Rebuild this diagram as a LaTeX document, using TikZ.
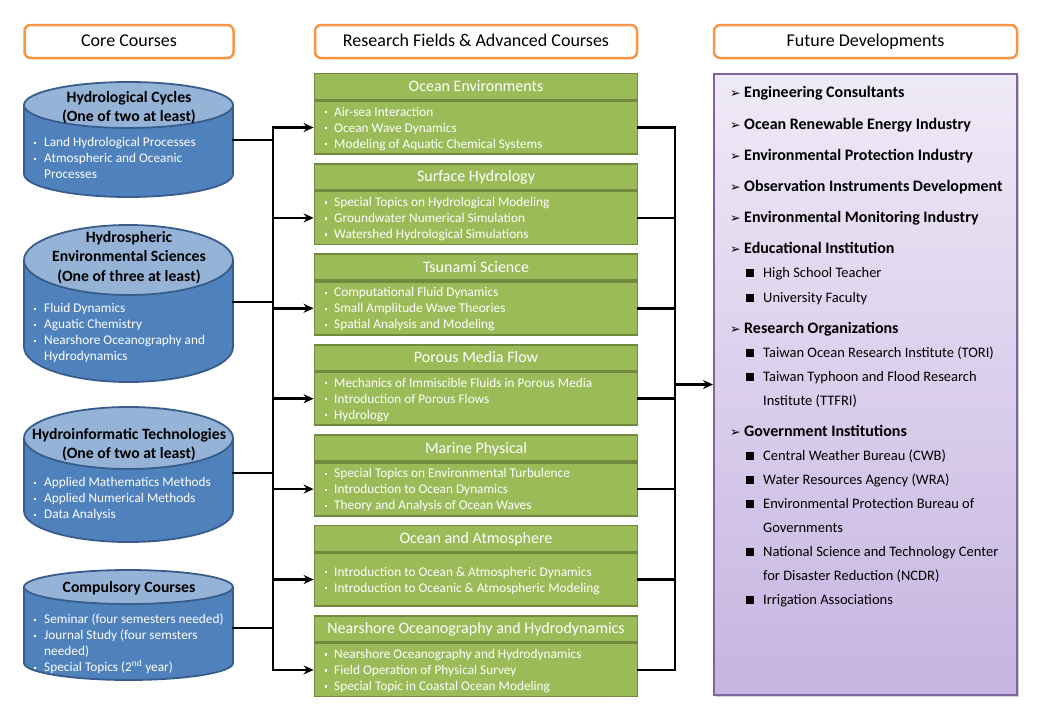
\documentclass[tikz,border=0pt]{standalone}
\usepackage{fontspec}
\setmainfont{Carlito}
\newfontfamily\symf{DejaVu Sans}
\usetikzlibrary{arrows.meta,shadows}
\definecolor{orangeB}{HTML}{F79646}
\definecolor{gFill}{HTML}{9BBB59}
\definecolor{gBord}{HTML}{71893F}
\definecolor{cBody}{HTML}{4F81BD}
\definecolor{cBord}{HTML}{385D8A}
\definecolor{cTop}{HTML}{95B3D7}
\definecolor{pBord}{HTML}{8064A2}
\definecolor{pTop}{HTML}{EFEAF7}
\definecolor{pBot}{HTML}{C6B4E1}
\newcommand\fsz[1]{\fontsize{#1}{#1}\selectfont}
\newcommand\gbul{\makebox[9pt][l]{\raisebox{2.8pt}{\rule{2.2pt}{2.2pt}}}}
\newcommand\cbul{\makebox[10pt][l]{\raisebox{2.8pt}{\rule{2.2pt}{2.2pt}}}}
\newcommand\pbul{\makebox[14pt][l]{\symf\fsz{12.5}➢}}
\newcommand\psq{\makebox[17pt][l]{\rule{7.8pt}{7.8pt}}}
\newcommand\cylshape[3]{%
  \filldraw[fill=cBody, draw=cBord, line width=1.8pt] (24,#1) -- (24,#3)
    arc[start angle=180, end angle=360, x radius=104.5pt, y radius=#2pt] -- (233,#1) -- cycle;
  \filldraw[fill=cTop, draw=cBord, line width=1.8pt] (128.5,#1) ellipse[x radius=104.5pt, y radius=#2pt];
}
\newcommand\gboxiii[6]{%
  \node[ghead] (#1h) at (476,#2+13.5) {#3};
  \node[gbody] (#1b) at (476,#2+54.5) {};
  \node[gtxt] (#1x) at (325,#2+54.5-16+4.5) {\gbul #4};
  \node[gtxt] (#1y) at (325,#2+54.5+4.5) {\gbul #5};
  \node[gtxt] (#1z) at (325,#2+54.5+16+4.5) {\gbul #6};
}
\begin{document}
\begin{tikzpicture}[x=1pt,y=-1pt,
  hdr/.style={draw=orangeB, line width=2.5pt, rounded corners=6pt, fill=white, minimum height=33pt, inner sep=0pt, font=\fsz{18}, text height=12.5pt, text depth=3.5pt},
  ghead/.style={draw=gBord, fill=gFill, line width=1.8pt, minimum width=323pt, minimum height=26pt, inner sep=0pt, text=white, font=\fsz{16}, text height=12pt, text depth=2pt},
  gbody/.style={draw=gBord, fill=gFill, line width=1.8pt, minimum width=323pt, minimum height=53pt, inner sep=0pt},
  gtxt/.style={anchor=base west, inner sep=0pt, text=white, font=\fsz{13.3}},
  ctit/.style={anchor=base, inner sep=0pt, font=\bfseries\fsz{15.7}},
  ctxt/.style={anchor=base west, inner sep=0pt, text=white, font=\fsz{13.3}},
  pbox/.style={draw=pBord, line width=2pt, top color=pTop, bottom color=pBot, inner sep=0pt, minimum width=303pt, minimum height=621pt, drop shadow={opacity=0.35, shadow xshift=2pt, shadow yshift=-2pt}},
  ptit/.style={anchor=base west, inner sep=0pt, font=\bfseries\fsz{16}},
  ptxt/.style={anchor=base west, inner sep=0pt, font=\fsz{14.5}},
  conn/.style={line width=2.5pt, black, line cap=rect},
  arr/.style={line width=2.5pt, black, -{Stealth[length=10pt,width=9pt]}},
]
\useasboundingbox (0,0) rectangle (1040,720);

% headers
\node[hdr, minimum width=209pt] (hcore) at (129,41.5) {Core Courses};
\node[hdr, minimum width=322pt] (hres) at (476,41.5) {Research Fields \& Advanced Courses};
\node[hdr, minimum width=303pt] (hfut) at (865.5,41.5) {Future Developments};

% cylinders
\cylshape{105}{23}{174}
\node[ctit] (c1t1) at (129,102.5) {Hydrological Cycles};
\node[ctit] (c1t2) at (129,121.5) {(One of two at least)};
\node[ctxt] (c1a) at (34,146.5) {\cbul Land Hydrological Processes};
\node[ctxt] (c1b) at (34,162.5) {\cbul Atmospheric and Oceanic};
\node[ctxt] (c1c) at (44,178.5) {Processes};

\cylshape{260}{35}{347}
\node[ctit] (c2t1) at (129,242.5) {Hydrospheric};
\node[ctit] (c2t2) at (129,261.5) {Environmental Sciences};
\node[ctit] (c2t3) at (129,281.5) {(One of three at least)};
\node[ctxt] (c2a) at (34,312.5) {\cbul Fluid Dynamics};
\node[ctxt] (c2b) at (34,328.5) {\cbul Aguatic Chemistry};
\node[ctxt] (c2c) at (34,344.5) {\cbul Nearshore Oceanography and};
\node[ctxt] (c2d) at (44,360.5) {Hydrodynamics};

\cylshape{438}{31}{511}
\node[ctit] (c3t1) at (129,439.5) {Hydroinformatic Technologies};
\node[ctit] (c3t2) at (129,458.5) {(One of two at least)};
\node[ctxt] (c3a) at (34,486.5) {\cbul Applied Mathematics Methods};
\node[ctxt] (c3b) at (34,502.5) {\cbul Applied Numerical Methods};
\node[ctxt] (c3c) at (34,518.5) {\cbul Data Analysis};

\cylshape{587}{17}{663}
\node[ctit] (c4t1) at (129,592.5) {Compulsory Courses};
\node[ctxt] (c4a) at (34,623.5) {\cbul Seminar (four semesters needed)};
\node[ctxt] (c4b) at (34,639.5) {\cbul Journal Study (four semsters};
\node[ctxt] (c4c) at (44,655.5) {needed)};
\node[ctxt] (c4d) at (34,671.5) {\cbul Special Topics (2\textsuperscript{nd} year)};

% green boxes
\gboxiii{g0}{73}{Ocean Environments}{Air-sea Interaction}{Ocean Wave Dynamics}{Modeling of Aquatic Chemical Systems}
\gboxiii{g1}{163.4}{Surface Hydrology}{Special Topics on Hydrological Modeling}{Groundwater Numerical Simulation}{Watershed Hydrological Simulations}
\gboxiii{g2}{253.8}{Tsunami Science}{Computational Fluid Dynamics}{Small Amplitude Wave Theories}{Spatial Analysis and Modeling}
\gboxiii{g3}{344.2}{Porous Media Flow}{Mechanics of Immiscible Fluids in Porous Media}{Introduction of Porous Flows}{Hydrology}
\gboxiii{g4}{434.6}{Marine Physical}{Special Topics on Environmental Turbulence}{Introduction to Ocean Dynamics}{Theory and Analysis of Ocean Waves}
\node[ghead] (g5h) at (476,525+13.5) {Ocean and Atmosphere};
\node[gbody] (g5b) at (476,525+54.5) {};
\node[gtxt] (g5x) at (325,525+54.5-8+4.5) {\gbul Introduction to Ocean \& Atmospheric Dynamics};
\node[gtxt] (g5y) at (325,525+54.5+8+4.5) {\gbul Introduction to Oceanic \& Atmospheric Modeling};
\gboxiii{g6}{615.4}{Nearshore Oceanography and Hydrodynamics}{Nearshore Oceanography and Hydrodynamics}{Field Operation of Physical Survey}{Special Topic in Coastal Ocean Modeling}

% future developments box
\node[pbox] (fut) at (865.5,384.5) {};
\node[ptit] (p1) at (730,97) {\pbul Engineering Consultants};
\node[ptit] (p2) at (730,129) {\pbul Ocean Renewable Energy Industry};
\node[ptit] (p3) at (730,160) {\pbul Environmental Protection Industry};
\node[ptit] (p4) at (730,191) {\pbul Observation Instruments Development};
\node[ptit] (p5) at (730,222) {\pbul Environmental Monitoring Industry};
\node[ptit] (p6) at (730,253) {\pbul Educational Institution};
\node[ptxt] (p7) at (746,277) {\psq High School Teacher};
\node[ptxt] (p8) at (746,302) {\psq University Faculty};
\node[ptit] (p9) at (730,333) {\pbul Research Organizations};
\node[ptxt] (p10) at (746,357) {\psq Taiwan Ocean Research Institute (TORI)};
\node[ptxt] (p11) at (746,381) {\psq Taiwan Typhoon and Flood Research};
\node[ptxt] (p12) at (763,405) {Institute (TTFRI)};
\node[ptit] (p13) at (730,436) {\pbul Government Institutions};
\node[ptxt] (p14) at (746,460) {\psq Central Weather Bureau (CWB)};
\node[ptxt] (p15) at (746,484) {\psq Water Resources Agency (WRA)};
\node[ptxt] (p16) at (746,508) {\psq Environmental Protection Bureau of};
\node[ptxt] (p17) at (763,532) {Governments};
\node[ptxt] (p18) at (746,556) {\psq National Science and Technology Center};
\node[ptxt] (p19) at (763,580) {for Disaster Reduction (NCDR)};
\node[ptxt] (p20) at (746,604) {\psq Irrigation Associations};

% connectors
\coordinate (busL) at (273,0);
\coordinate (busR) at (675,0);
\coordinate (c1r) at (233,140);
\coordinate (c2r) at (233,302);
\coordinate (c3r) at (233,473);
\coordinate (c4r) at (233,628);
\draw[conn] (g0b.west -| busL) -- (g6b.west -| busL);
\foreach \c in {c1r,c2r,c3r,c4r} \draw[conn] (\c) -- (\c -| busL);
\foreach \g in {g0,g1,g2,g3,g4,g5,g6} {
  \draw[arr] (\g b.west -| busL) -- (\g b.west);
  \draw[conn] (\g b.east) -- (\g b.east -| busR);
}
\draw[conn] (g0b.east -| busR) -- (g6b.east -| busR);
\coordinate (busRmid) at (675,384.5);
\draw[arr] (busRmid) -- (fut.west);
\end{tikzpicture}
\end{document}
